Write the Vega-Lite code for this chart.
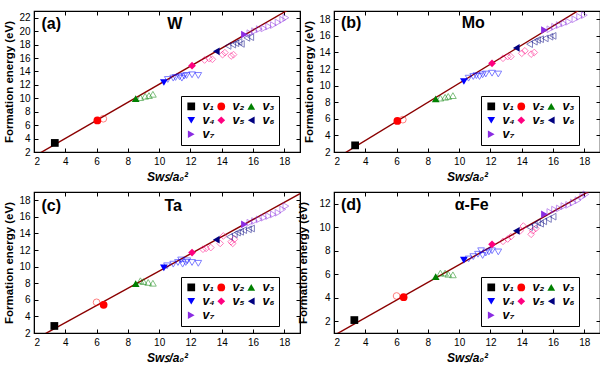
{
"$schema": "https://vega.github.io/schema/vega-lite/v6.json",
"background": "white",
"padding": {"left": 3, "top": 9, "right": 2, "bottom": 2},
"bounds": "flush",
"spacing": {"row": 40, "column": 34},
"columns": 2,
"config": {
  "font": "Liberation Sans",
  "view": {"stroke": "black", "strokeWidth": 1.2},
  "axis": {"grid": false, "domainColor": "black", "tickColor": "black", "tickSize": -4, "tickWidth": 1, "labelPadding": 8, "labelFontSize": 10, "labelColor": "black", "labelFont": "Liberation Sans", "titleFont": "Liberation Sans", "titleFontWeight": "bold", "titleColor": "black"},
  "legend": {"title": null, "orient": "none", "legendX": 147, "legendY": 85, "direction": "horizontal", "columns": 3, "strokeColor": "black", "padding": 4, "labelFontSize": 12.5, "labelFontStyle": "italic", "labelFontWeight": "bold", "labelColor": "black", "labelOffset": 5, "symbolSize": 60, "symbolStrokeWidth": 0, "columnPadding": 0, "rowPadding": 1, "fillColor": "white"}
},
"datasets": {
  "pts": [
    {"p":"a","k":"f","v":"v₁","x":3.33,"y":3.35},
    {"p":"a","k":"f","v":"v₂","x":6.05,"y":6.7},
    {"p":"a","k":"f","v":"v₃","x":8.5,"y":9.95},
    {"p":"a","k":"f","v":"v₄","x":10.3,"y":12.35},
    {"p":"a","k":"f","v":"v₅","x":12.1,"y":14.85},
    {"p":"a","k":"f","v":"v₆","x":13.65,"y":17.0},
    {"p":"a","k":"f","v":"v₇","x":15.45,"y":19.5},
    {"p":"a","k":"h","v":"v₂","x":6.43,"y":6.95},
    {"p":"a","k":"h","v":"v₃","x":8.8,"y":10.1},
    {"p":"a","k":"h","v":"v₃","x":9.1,"y":10.3},
    {"p":"a","k":"h","v":"v₃","x":9.35,"y":10.4},
    {"p":"a","k":"h","v":"v₃","x":9.6,"y":10.6},
    {"p":"a","k":"h","v":"v₄","x":10.55,"y":12.8},
    {"p":"a","k":"h","v":"v₄","x":10.9,"y":13.0},
    {"p":"a","k":"h","v":"v₄","x":11.05,"y":13.1},
    {"p":"a","k":"h","v":"v₄","x":11.3,"y":13.2},
    {"p":"a","k":"h","v":"v₄","x":11.45,"y":13.0},
    {"p":"a","k":"h","v":"v₄","x":11.6,"y":13.3},
    {"p":"a","k":"h","v":"v₄","x":11.75,"y":13.4},
    {"p":"a","k":"h","v":"v₄","x":12.1,"y":13.5},
    {"p":"a","k":"h","v":"v₄","x":12.5,"y":13.4},
    {"p":"a","k":"h","v":"v₅","x":12.9,"y":15.7},
    {"p":"a","k":"h","v":"v₅","x":13.2,"y":15.9},
    {"p":"a","k":"h","v":"v₅","x":13.4,"y":15.8},
    {"p":"a","k":"h","v":"v₅","x":14.05,"y":16.5},
    {"p":"a","k":"h","v":"v₅","x":14.2,"y":16.8},
    {"p":"a","k":"h","v":"v₅","x":14.6,"y":16.3},
    {"p":"a","k":"h","v":"v₅","x":14.75,"y":16.5},
    {"p":"a","k":"h","v":"v₆","x":14.4,"y":17.8},
    {"p":"a","k":"h","v":"v₆","x":14.7,"y":18.0},
    {"p":"a","k":"h","v":"v₆","x":14.9,"y":18.2},
    {"p":"a","k":"h","v":"v₆","x":15.1,"y":18.4},
    {"p":"a","k":"h","v":"v₆","x":15.25,"y":18.1},
    {"p":"a","k":"h","v":"v₆","x":15.6,"y":19.0},
    {"p":"a","k":"h","v":"v₆","x":15.85,"y":19.1},
    {"p":"a","k":"h","v":"v₇","x":15.8,"y":19.7},
    {"p":"a","k":"h","v":"v₇","x":16.1,"y":20.0},
    {"p":"a","k":"h","v":"v₇","x":16.4,"y":20.3},
    {"p":"a","k":"h","v":"v₇","x":16.7,"y":20.4},
    {"p":"a","k":"h","v":"v₇","x":17.0,"y":20.7},
    {"p":"a","k":"h","v":"v₇","x":17.3,"y":20.9},
    {"p":"a","k":"h","v":"v₇","x":17.6,"y":21.3},
    {"p":"a","k":"h","v":"v₇","x":17.9,"y":21.7},
    {"p":"a","k":"h","v":"v₇","x":18.1,"y":22.0},

    {"p":"b","k":"f","v":"v₁","x":3.35,"y":2.8},
    {"p":"b","k":"f","v":"v₂","x":6.05,"y":5.75},
    {"p":"b","k":"f","v":"v₃","x":8.5,"y":8.4},
    {"p":"b","k":"f","v":"v₄","x":10.3,"y":10.5},
    {"p":"b","k":"f","v":"v₅","x":12.1,"y":12.7},
    {"p":"b","k":"f","v":"v₆","x":13.65,"y":14.55},
    {"p":"b","k":"f","v":"v₇","x":15.45,"y":16.7},
    {"p":"b","k":"h","v":"v₂","x":6.4,"y":5.9},
    {"p":"b","k":"h","v":"v₃","x":8.8,"y":8.5},
    {"p":"b","k":"h","v":"v₃","x":9.1,"y":8.6},
    {"p":"b","k":"h","v":"v₃","x":9.3,"y":8.7},
    {"p":"b","k":"h","v":"v₃","x":9.6,"y":8.8},
    {"p":"b","k":"h","v":"v₄","x":10.6,"y":10.9},
    {"p":"b","k":"h","v":"v₄","x":10.9,"y":11.1},
    {"p":"b","k":"h","v":"v₄","x":11.1,"y":11.2},
    {"p":"b","k":"h","v":"v₄","x":11.3,"y":11.1},
    {"p":"b","k":"h","v":"v₄","x":11.5,"y":11.3},
    {"p":"b","k":"h","v":"v₄","x":11.7,"y":11.4},
    {"p":"b","k":"h","v":"v₄","x":12.1,"y":11.5},
    {"p":"b","k":"h","v":"v₄","x":12.5,"y":11.4},
    {"p":"b","k":"h","v":"v₅","x":12.8,"y":13.3},
    {"p":"b","k":"h","v":"v₅","x":13.1,"y":13.5},
    {"p":"b","k":"h","v":"v₅","x":13.3,"y":13.5},
    {"p":"b","k":"h","v":"v₅","x":14.0,"y":13.9},
    {"p":"b","k":"h","v":"v₅","x":14.2,"y":14.2},
    {"p":"b","k":"h","v":"v₅","x":14.6,"y":13.8},
    {"p":"b","k":"h","v":"v₅","x":14.8,"y":14.0},
    {"p":"b","k":"h","v":"v₆","x":14.5,"y":15.0},
    {"p":"b","k":"h","v":"v₆","x":14.8,"y":15.3},
    {"p":"b","k":"h","v":"v₆","x":15.0,"y":15.5},
    {"p":"b","k":"h","v":"v₆","x":15.2,"y":15.6},
    {"p":"b","k":"h","v":"v₆","x":15.5,"y":15.7},
    {"p":"b","k":"h","v":"v₆","x":15.8,"y":15.9},
    {"p":"b","k":"h","v":"v₆","x":16.0,"y":16.0},
    {"p":"b","k":"h","v":"v₇","x":15.8,"y":16.8},
    {"p":"b","k":"h","v":"v₇","x":16.1,"y":17.1},
    {"p":"b","k":"h","v":"v₇","x":16.4,"y":17.3},
    {"p":"b","k":"h","v":"v₇","x":16.7,"y":17.5},
    {"p":"b","k":"h","v":"v₇","x":17.0,"y":17.7},
    {"p":"b","k":"h","v":"v₇","x":17.4,"y":18.0},
    {"p":"b","k":"h","v":"v₇","x":17.7,"y":18.3},
    {"p":"b","k":"h","v":"v₇","x":18.0,"y":18.5},

    {"p":"c","k":"f","v":"v₁","x":3.3,"y":2.85},
    {"p":"c","k":"f","v":"v₂","x":6.45,"y":5.4},
    {"p":"c","k":"f","v":"v₃","x":8.5,"y":7.95},
    {"p":"c","k":"f","v":"v₄","x":10.3,"y":9.85},
    {"p":"c","k":"f","v":"v₅","x":12.1,"y":11.7},
    {"p":"c","k":"f","v":"v₆","x":13.65,"y":13.25},
    {"p":"c","k":"f","v":"v₇","x":15.45,"y":15.1},
    {"p":"c","k":"h","v":"v₂","x":6.0,"y":5.7},
    {"p":"c","k":"h","v":"v₃","x":8.8,"y":8.3},
    {"p":"c","k":"h","v":"v₃","x":9.0,"y":8.2},
    {"p":"c","k":"h","v":"v₃","x":9.3,"y":8.1},
    {"p":"c","k":"h","v":"v₃","x":9.6,"y":8.0},
    {"p":"c","k":"h","v":"v₄","x":10.5,"y":10.1},
    {"p":"c","k":"h","v":"v₄","x":10.9,"y":10.3},
    {"p":"c","k":"h","v":"v₄","x":11.2,"y":10.5},
    {"p":"c","k":"h","v":"v₄","x":11.4,"y":10.8},
    {"p":"c","k":"h","v":"v₄","x":11.5,"y":10.3},
    {"p":"c","k":"h","v":"v₄","x":11.7,"y":10.5},
    {"p":"c","k":"h","v":"v₄","x":11.8,"y":10.7},
    {"p":"c","k":"h","v":"v₄","x":12.1,"y":10.5},
    {"p":"c","k":"h","v":"v₄","x":12.5,"y":10.4},
    {"p":"c","k":"h","v":"v₅","x":12.8,"y":12.1},
    {"p":"c","k":"h","v":"v₅","x":13.0,"y":12.2},
    {"p":"c","k":"h","v":"v₅","x":13.3,"y":12.3},
    {"p":"c","k":"h","v":"v₅","x":13.9,"y":12.8},
    {"p":"c","k":"h","v":"v₅","x":14.1,"y":13.7},
    {"p":"c","k":"h","v":"v₅","x":14.6,"y":13.0},
    {"p":"c","k":"h","v":"v₅","x":14.7,"y":12.8},
    {"p":"c","k":"h","v":"v₅","x":14.8,"y":13.3},
    {"p":"c","k":"h","v":"v₆","x":14.5,"y":13.6},
    {"p":"c","k":"h","v":"v₆","x":14.8,"y":13.9},
    {"p":"c","k":"h","v":"v₆","x":15.0,"y":14.1},
    {"p":"c","k":"h","v":"v₆","x":15.2,"y":14.2},
    {"p":"c","k":"h","v":"v₆","x":15.4,"y":14.4},
    {"p":"c","k":"h","v":"v₆","x":15.7,"y":14.5},
    {"p":"c","k":"h","v":"v₆","x":15.9,"y":14.6},
    {"p":"c","k":"h","v":"v₇","x":15.8,"y":15.3},
    {"p":"c","k":"h","v":"v₇","x":16.1,"y":15.5},
    {"p":"c","k":"h","v":"v₇","x":16.4,"y":15.7},
    {"p":"c","k":"h","v":"v₇","x":16.7,"y":15.9},
    {"p":"c","k":"h","v":"v₇","x":17.0,"y":16.1},
    {"p":"c","k":"h","v":"v₇","x":17.3,"y":16.3},
    {"p":"c","k":"h","v":"v₇","x":17.6,"y":16.5},
    {"p":"c","k":"h","v":"v₇","x":17.9,"y":16.9},
    {"p":"c","k":"h","v":"v₇","x":18.1,"y":17.3},

    {"p":"d","k":"f","v":"v₁","x":3.3,"y":2.1},
    {"p":"d","k":"f","v":"v₂","x":6.45,"y":4.05},
    {"p":"d","k":"f","v":"v₃","x":8.5,"y":5.8},
    {"p":"d","k":"f","v":"v₄","x":10.3,"y":7.2},
    {"p":"d","k":"f","v":"v₅","x":12.1,"y":8.55},
    {"p":"d","k":"f","v":"v₆","x":13.65,"y":9.7},
    {"p":"d","k":"f","v":"v₇","x":15.45,"y":11.1},
    {"p":"d","k":"h","v":"v₂","x":6.0,"y":4.15},
    {"p":"d","k":"h","v":"v₃","x":8.8,"y":6.1},
    {"p":"d","k":"h","v":"v₃","x":9.1,"y":6.1},
    {"p":"d","k":"h","v":"v₃","x":9.3,"y":6.0},
    {"p":"d","k":"h","v":"v₃","x":9.6,"y":5.95},
    {"p":"d","k":"h","v":"v₄","x":10.6,"y":7.3},
    {"p":"d","k":"h","v":"v₄","x":10.9,"y":7.5},
    {"p":"d","k":"h","v":"v₄","x":11.2,"y":7.7},
    {"p":"d","k":"h","v":"v₄","x":11.4,"y":8.0},
    {"p":"d","k":"h","v":"v₄","x":11.5,"y":7.6},
    {"p":"d","k":"h","v":"v₄","x":11.7,"y":7.8},
    {"p":"d","k":"h","v":"v₄","x":11.9,"y":7.9},
    {"p":"d","k":"h","v":"v₄","x":12.1,"y":8.0},
    {"p":"d","k":"h","v":"v₄","x":12.5,"y":7.9},
    {"p":"d","k":"h","v":"v₅","x":12.8,"y":8.8},
    {"p":"d","k":"h","v":"v₅","x":13.1,"y":9.0},
    {"p":"d","k":"h","v":"v₅","x":13.3,"y":9.2},
    {"p":"d","k":"h","v":"v₅","x":13.9,"y":9.7},
    {"p":"d","k":"h","v":"v₅","x":14.1,"y":10.1},
    {"p":"d","k":"h","v":"v₅","x":14.6,"y":9.4},
    {"p":"d","k":"h","v":"v₅","x":14.7,"y":9.7},
    {"p":"d","k":"h","v":"v₅","x":14.9,"y":9.9},
    {"p":"d","k":"h","v":"v₆","x":14.5,"y":10.0},
    {"p":"d","k":"h","v":"v₆","x":14.8,"y":10.2},
    {"p":"d","k":"h","v":"v₆","x":15.0,"y":10.4},
    {"p":"d","k":"h","v":"v₆","x":15.2,"y":10.3},
    {"p":"d","k":"h","v":"v₆","x":15.4,"y":10.5},
    {"p":"d","k":"h","v":"v₆","x":15.7,"y":10.7},
    {"p":"d","k":"h","v":"v₆","x":16.0,"y":10.9},
    {"p":"d","k":"h","v":"v₇","x":15.8,"y":11.3},
    {"p":"d","k":"h","v":"v₇","x":16.1,"y":11.5},
    {"p":"d","k":"h","v":"v₇","x":16.4,"y":11.6},
    {"p":"d","k":"h","v":"v₇","x":16.7,"y":11.8},
    {"p":"d","k":"h","v":"v₇","x":17.0,"y":11.9},
    {"p":"d","k":"h","v":"v₇","x":17.3,"y":12.1},
    {"p":"d","k":"h","v":"v₇","x":17.6,"y":12.3},
    {"p":"d","k":"h","v":"v₇","x":17.9,"y":12.6},
    {"p":"d","k":"h","v":"v₇","x":18.1,"y":12.8}
  ],
  "lines": [
    {"p":"a","x":2,"y":1.33},{"p":"a","x":19,"y":24.19},
    {"p":"b","x":2,"y":1.08},{"p":"b","x":19,"y":20.64},
    {"p":"c","x":2,"y":1.17},{"p":"c","x":19,"y":18.8},
    {"p":"d","x":2,"y":0.79},{"p":"d","x":19,"y":13.59}
  ],
  "labels": [
    {"p":"a","t":"(a)","x":3.1,"y":21.1},{"p":"a","t":"W","x":11.0,"y":21.1},
    {"p":"b","t":"(b)","x":3.1,"y":17.5},{"p":"b","t":"Mo","x":10.9,"y":17.5},
    {"p":"c","t":"(c)","x":3.1,"y":17.3},{"p":"c","t":"Ta","x":10.9,"y":17.3},
    {"p":"d","t":"(d)","x":3.1,"y":11.86},{"p":"d","t":"α-Fe","x":10.8,"y":11.86}
  ]
},
"resolve": {"legend": {"color": "independent", "shape": "independent"}},
"concat": [
  {
    "width": 266, "height": 141,
    "resolve": {"axis": {"x": "independent", "y": "independent"}, "scale": {"color": "independent", "shape": "independent"}},
    "layer": [
      {"data": {"name": "lines"}, "transform": [{"filter": "datum.p == 'a'"}],
       "mark": {"type": "line", "color": "#8B0000", "strokeWidth": 1.4, "clip": true},
       "encoding": {
         "x": {"field": "x", "type": "quantitative", "scale": {"domain": [2, 19], "nice": false, "zero": false}, "axis": {"title": "Sᴡꜱ/a₀²", "titleFontStyle": "italic", "titleFontSize": 12, "titlePadding": 5, "values": [2,4,6,8,10,12,14,16,18]}},
         "y": {"field": "y", "type": "quantitative", "scale": {"domain": [2, 23], "nice": false, "zero": false}, "axis": {"title": "Formation energy (eV)", "titleFontSize": 11.5, "titlePadding": 4, "values": [2,4,6,8,10,12,14,16,18,20,22]}}
       }},
      {"data": {"name": "pts"}, "transform": [{"filter": "datum.p == 'a' && datum.k == 'h'"}],
       "mark": {"type": "point", "filled": false, "size": 45, "strokeWidth": 1, "opacity": 0.5},
       "encoding": {
         "x": {"field": "x", "type": "quantitative", "axis": {"orient": "top", "labels": false, "title": null, "values": [2,4,6,8,10,12,14,16,18]}},
         "y": {"field": "y", "type": "quantitative", "axis": {"orient": "right", "labels": false, "title": null, "values": [2,4,6,8,10,12,14,16,18,20,22]}},
         "color": {"field": "v", "type": "nominal", "scale": {"domain": ["v₁","v₂","v₃","v₄","v₅","v₆","v₇"], "range": ["#000000","#FF0000","#008000","#0000FF","#FF0080","#000080","#8A2BE2"]}, "legend": null},
         "shape": {"field": "v", "type": "nominal", "scale": {"domain": ["v₁","v₂","v₃","v₄","v₅","v₆","v₇"], "range": ["square","circle","triangle-up","triangle-down","diamond","triangle-left","triangle-right"]}, "legend": null}
       }},
      {"data": {"name": "pts"}, "transform": [{"filter": "datum.p == 'a' && datum.k == 'f'"}],
       "mark": {"type": "point", "filled": true, "size": 60, "opacity": 1},
       "encoding": {
         "x": {"field": "x", "type": "quantitative", "axis": null},
         "y": {"field": "y", "type": "quantitative", "axis": null},
         "color": {"field": "v", "type": "nominal", "scale": {"domain": ["v₁","v₂","v₃","v₄","v₅","v₆","v₇"], "range": ["#000000","#FF0000","#008000","#0000FF","#FF0080","#000080","#8A2BE2"]}},
         "shape": {"field": "v", "type": "nominal", "scale": {"domain": ["v₁","v₂","v₃","v₄","v₅","v₆","v₇"], "range": ["square","circle","triangle-up","triangle-down","diamond","triangle-left","triangle-right"]}}
       }},
      {"data": {"name": "labels"}, "transform": [{"filter": "datum.p == 'a'"}],
       "mark": {"type": "text", "fontSize": 16, "fontWeight": "bold", "color": "black", "baseline": "middle", "align": "center"},
       "encoding": {
         "x": {"field": "x", "type": "quantitative", "axis": null},
         "y": {"field": "y", "type": "quantitative", "axis": null},
         "text": {"field": "t"}
       }}
    ]
  },
  {
    "width": 266, "height": 141,
    "resolve": {"axis": {"x": "independent", "y": "independent"}, "scale": {"color": "independent", "shape": "independent"}},
    "layer": [
      {"data": {"name": "lines"}, "transform": [{"filter": "datum.p == 'b'"}],
       "mark": {"type": "line", "color": "#8B0000", "strokeWidth": 1.4, "clip": true},
       "encoding": {
         "x": {"field": "x", "type": "quantitative", "scale": {"domain": [2, 19], "nice": false, "zero": false}, "axis": {"title": "Sᴡꜱ/a₀²", "titleFontStyle": "italic", "titleFontSize": 12, "titlePadding": 5, "values": [2,4,6,8,10,12,14,16,18]}},
         "y": {"field": "y", "type": "quantitative", "scale": {"domain": [2, 19], "nice": false, "zero": false}, "axis": {"title": "Formation energy (eV)", "titleFontSize": 11.5, "titlePadding": 4, "values": [2,4,6,8,10,12,14,16,18]}}
       }},
      {"data": {"name": "pts"}, "transform": [{"filter": "datum.p == 'b' && datum.k == 'h'"}],
       "mark": {"type": "point", "filled": false, "size": 45, "strokeWidth": 1, "opacity": 0.5},
       "encoding": {
         "x": {"field": "x", "type": "quantitative", "axis": {"orient": "top", "labels": false, "title": null, "values": [2,4,6,8,10,12,14,16,18]}},
         "y": {"field": "y", "type": "quantitative", "axis": {"orient": "right", "labels": false, "title": null, "values": [2,4,6,8,10,12,14,16,18]}},
         "color": {"field": "v", "type": "nominal", "scale": {"domain": ["v₁","v₂","v₃","v₄","v₅","v₆","v₇"], "range": ["#000000","#FF0000","#008000","#0000FF","#FF0080","#000080","#8A2BE2"]}, "legend": null},
         "shape": {"field": "v", "type": "nominal", "scale": {"domain": ["v₁","v₂","v₃","v₄","v₅","v₆","v₇"], "range": ["square","circle","triangle-up","triangle-down","diamond","triangle-left","triangle-right"]}, "legend": null}
       }},
      {"data": {"name": "pts"}, "transform": [{"filter": "datum.p == 'b' && datum.k == 'f'"}],
       "mark": {"type": "point", "filled": true, "size": 60, "opacity": 1},
       "encoding": {
         "x": {"field": "x", "type": "quantitative", "axis": null},
         "y": {"field": "y", "type": "quantitative", "axis": null},
         "color": {"field": "v", "type": "nominal", "scale": {"domain": ["v₁","v₂","v₃","v₄","v₅","v₆","v₇"], "range": ["#000000","#FF0000","#008000","#0000FF","#FF0080","#000080","#8A2BE2"]}},
         "shape": {"field": "v", "type": "nominal", "scale": {"domain": ["v₁","v₂","v₃","v₄","v₅","v₆","v₇"], "range": ["square","circle","triangle-up","triangle-down","diamond","triangle-left","triangle-right"]}}
       }},
      {"data": {"name": "labels"}, "transform": [{"filter": "datum.p == 'b'"}],
       "mark": {"type": "text", "fontSize": 16, "fontWeight": "bold", "color": "black", "baseline": "middle", "align": "center"},
       "encoding": {
         "x": {"field": "x", "type": "quantitative", "axis": null},
         "y": {"field": "y", "type": "quantitative", "axis": null},
         "text": {"field": "t"}
       }}
    ]
  },
  {
    "width": 266, "height": 141,
    "resolve": {"axis": {"x": "independent", "y": "independent"}, "scale": {"color": "independent", "shape": "independent"}},
    "layer": [
      {"data": {"name": "lines"}, "transform": [{"filter": "datum.p == 'c'"}],
       "mark": {"type": "line", "color": "#8B0000", "strokeWidth": 1.4, "clip": true},
       "encoding": {
         "x": {"field": "x", "type": "quantitative", "scale": {"domain": [2, 19], "nice": false, "zero": false}, "axis": {"title": "Sᴡꜱ/a₀²", "titleFontStyle": "italic", "titleFontSize": 12, "titlePadding": 5, "values": [2,4,6,8,10,12,14,16,18]}},
         "y": {"field": "y", "type": "quantitative", "scale": {"domain": [2, 19], "nice": false, "zero": false}, "axis": {"title": "Formation energy (eV)", "titleFontSize": 11.5, "titlePadding": 4, "values": [2,4,6,8,10,12,14,16,18]}}
       }},
      {"data": {"name": "pts"}, "transform": [{"filter": "datum.p == 'c' && datum.k == 'h'"}],
       "mark": {"type": "point", "filled": false, "size": 45, "strokeWidth": 1, "opacity": 0.5},
       "encoding": {
         "x": {"field": "x", "type": "quantitative", "axis": {"orient": "top", "labels": false, "title": null, "values": [2,4,6,8,10,12,14,16,18]}},
         "y": {"field": "y", "type": "quantitative", "axis": {"orient": "right", "labels": false, "title": null, "values": [2,4,6,8,10,12,14,16,18]}},
         "color": {"field": "v", "type": "nominal", "scale": {"domain": ["v₁","v₂","v₃","v₄","v₅","v₆","v₇"], "range": ["#000000","#FF0000","#008000","#0000FF","#FF0080","#000080","#8A2BE2"]}, "legend": null},
         "shape": {"field": "v", "type": "nominal", "scale": {"domain": ["v₁","v₂","v₃","v₄","v₅","v₆","v₇"], "range": ["square","circle","triangle-up","triangle-down","diamond","triangle-left","triangle-right"]}, "legend": null}
       }},
      {"data": {"name": "pts"}, "transform": [{"filter": "datum.p == 'c' && datum.k == 'f'"}],
       "mark": {"type": "point", "filled": true, "size": 60, "opacity": 1},
       "encoding": {
         "x": {"field": "x", "type": "quantitative", "axis": null},
         "y": {"field": "y", "type": "quantitative", "axis": null},
         "color": {"field": "v", "type": "nominal", "scale": {"domain": ["v₁","v₂","v₃","v₄","v₅","v₆","v₇"], "range": ["#000000","#FF0000","#008000","#0000FF","#FF0080","#000080","#8A2BE2"]}},
         "shape": {"field": "v", "type": "nominal", "scale": {"domain": ["v₁","v₂","v₃","v₄","v₅","v₆","v₇"], "range": ["square","circle","triangle-up","triangle-down","diamond","triangle-left","triangle-right"]}}
       }},
      {"data": {"name": "labels"}, "transform": [{"filter": "datum.p == 'c'"}],
       "mark": {"type": "text", "fontSize": 16, "fontWeight": "bold", "color": "black", "baseline": "middle", "align": "center"},
       "encoding": {
         "x": {"field": "x", "type": "quantitative", "axis": null},
         "y": {"field": "y", "type": "quantitative", "axis": null},
         "text": {"field": "t"}
       }}
    ]
  },
  {
    "width": 266, "height": 141,
    "resolve": {"axis": {"x": "independent", "y": "independent"}, "scale": {"color": "independent", "shape": "independent"}},
    "layer": [
      {"data": {"name": "lines"}, "transform": [{"filter": "datum.p == 'd'"}],
       "mark": {"type": "line", "color": "#8B0000", "strokeWidth": 1.4, "clip": true},
       "encoding": {
         "x": {"field": "x", "type": "quantitative", "scale": {"domain": [2, 19], "nice": false, "zero": false}, "axis": {"title": "Sᴡꜱ/a₀²", "titleFontStyle": "italic", "titleFontSize": 12, "titlePadding": 5, "values": [2,4,6,8,10,12,14,16,18]}},
         "y": {"field": "y", "type": "quantitative", "scale": {"domain": [1, 13], "nice": false, "zero": false}, "axis": {"title": "Formation energy (eV)", "titleFontSize": 11.5, "titlePadding": 10, "values": [2,4,6,8,10,12]}}
       }},
      {"data": {"name": "pts"}, "transform": [{"filter": "datum.p == 'd' && datum.k == 'h'"}],
       "mark": {"type": "point", "filled": false, "size": 45, "strokeWidth": 1, "opacity": 0.5},
       "encoding": {
         "x": {"field": "x", "type": "quantitative", "axis": {"orient": "top", "labels": false, "title": null, "values": [2,4,6,8,10,12,14,16,18]}},
         "y": {"field": "y", "type": "quantitative", "axis": {"orient": "right", "labels": false, "title": null, "values": [2,4,6,8,10,12]}},
         "color": {"field": "v", "type": "nominal", "scale": {"domain": ["v₁","v₂","v₃","v₄","v₅","v₆","v₇"], "range": ["#000000","#FF0000","#008000","#0000FF","#FF0080","#000080","#8A2BE2"]}, "legend": null},
         "shape": {"field": "v", "type": "nominal", "scale": {"domain": ["v₁","v₂","v₃","v₄","v₅","v₆","v₇"], "range": ["square","circle","triangle-up","triangle-down","diamond","triangle-left","triangle-right"]}, "legend": null}
       }},
      {"data": {"name": "pts"}, "transform": [{"filter": "datum.p == 'd' && datum.k == 'f'"}],
       "mark": {"type": "point", "filled": true, "size": 60, "opacity": 1},
       "encoding": {
         "x": {"field": "x", "type": "quantitative", "axis": null},
         "y": {"field": "y", "type": "quantitative", "axis": null},
         "color": {"field": "v", "type": "nominal", "scale": {"domain": ["v₁","v₂","v₃","v₄","v₅","v₆","v₇"], "range": ["#000000","#FF0000","#008000","#0000FF","#FF0080","#000080","#8A2BE2"]}},
         "shape": {"field": "v", "type": "nominal", "scale": {"domain": ["v₁","v₂","v₃","v₄","v₅","v₆","v₇"], "range": ["square","circle","triangle-up","triangle-down","diamond","triangle-left","triangle-right"]}}
       }},
      {"data": {"name": "labels"}, "transform": [{"filter": "datum.p == 'd'"}],
       "mark": {"type": "text", "fontSize": 16, "fontWeight": "bold", "color": "black", "baseline": "middle", "align": "center"},
       "encoding": {
         "x": {"field": "x", "type": "quantitative", "axis": null},
         "y": {"field": "y", "type": "quantitative", "axis": null},
         "text": {"field": "t"}
       }}
    ]
  }
]
}
